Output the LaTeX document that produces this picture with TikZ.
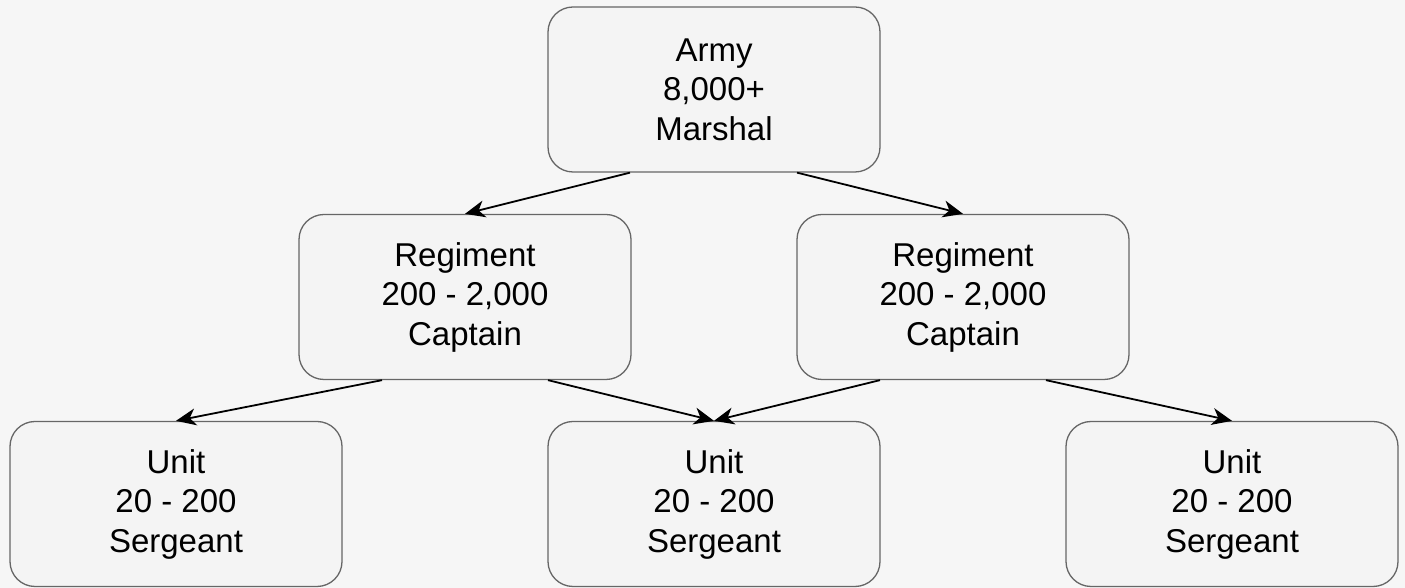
\documentclass[tikz,border=0pt]{standalone}
\usepackage{fontspec}
\setmainfont{Liberation Sans}
\usetikzlibrary{arrows.meta}
\definecolor{paper}{HTML}{F6F6F6}
\definecolor{boxfill}{HTML}{F4F4F4}
\definecolor{boxline}{HTML}{666666}
\tikzset{
    rank/.style={draw=boxline, fill=boxfill, line width=1.3pt, rounded corners=25pt,
        minimum width=332pt, minimum height=165pt, inner sep=0pt, align=center,
        font=\fontsize{33}{39.5}\selectfont},
    cmd/.style={-{Stealth[length=20pt, width=17pt, inset=6pt]}, line width=1.8pt, black},
}
\begin{document}
\begin{tikzpicture}[x=1pt,y=1pt]
      \fill[paper] (0,0) rectangle (1405,588);
      \useasboundingbox (0,0) rectangle (1405,588);

      % top level
      \node[rank] (army) at (714,498.5) {Army\\8,000+\\Marshal};

      % regiments
      \node[rank] (regl) at (465,291) {Regiment\\200 - 2,000\\Captain};
      \node[rank] (regr) at (963,291) {Regiment\\200 - 2,000\\Captain};

      % units
      \node[rank] (unitl) at (176,84) {Unit\\20 - 200\\Sergeant};
      \node[rank] (unitm) at (714,84) {Unit\\20 - 200\\Sergeant};
      \node[rank] (unitr) at (1232,84) {Unit\\20 - 200\\Sergeant};

      \draw[cmd] ([xshift=-84]army.south) -- (regl.north);
      \draw[cmd] ([xshift=83]army.south) -- (regr.north);
      \draw[cmd] ([xshift=-83]regl.south) -- (unitl.north);
      \draw[cmd] ([xshift=83]regl.south) -- (unitm.north);
      \draw[cmd] ([xshift=-83]regr.south) -- (unitm.north);
      \draw[cmd] ([xshift=83]regr.south) -- (unitr.north);
\end{tikzpicture}
\end{document}
